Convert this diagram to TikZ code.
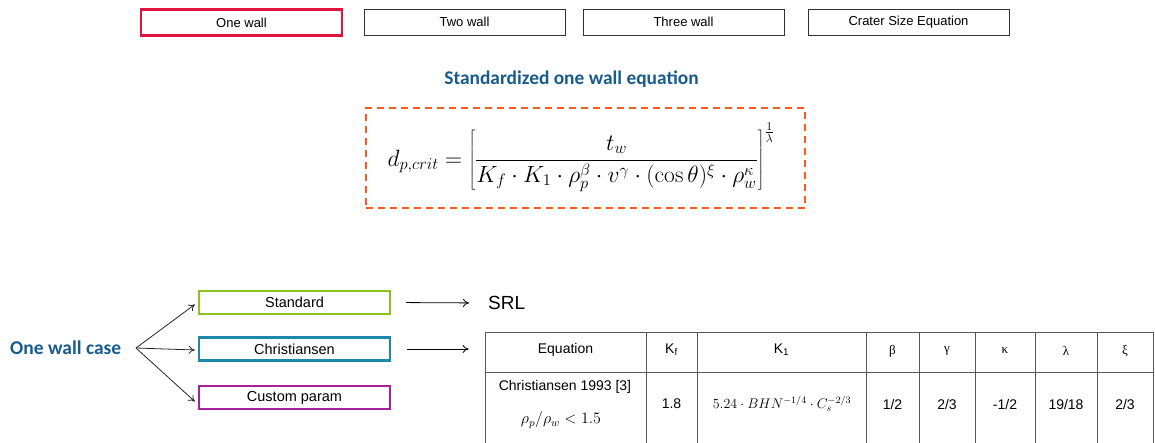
\RequirePackage{fix-cm}
\documentclass[tikz,border=0pt]{standalone}
\usepackage[no-math]{fontspec}
\setmainfont{Liberation Sans}
\newfontfamily\headfont{Carlito}
\newfontfamily\greekfont{Liberation Serif}
\usetikzlibrary{positioning,arrows.meta}
\definecolor{tabred}{RGB}{224,20,60}
\definecolor{headblue}{RGB}{24,92,140}
\definecolor{dashorange}{RGB}{255,90,30}
\definecolor{stdgreen}{RGB}{140,194,30}
\definecolor{chrblue}{RGB}{28,136,172}
\definecolor{custmagenta}{RGB}{163,35,155}
\begin{document}
\begin{tikzpicture}[x=1pt, y=-1pt, >={To[length=6pt,width=8pt]}]
	% Define styles
	\tikzstyle{tab} = [rectangle, draw=black!80, line width=0.8pt, minimum width=201pt, minimum height=26pt, inner sep=0pt, font=\fontsize{13}{15}\selectfont]
	\tikzstyle{choice} = [rectangle, line width=2.4pt, minimum width=191pt, minimum height=23pt, inner sep=0pt, font=\fontsize{14.5}{17}\selectfont]
	\tikzstyle{heading} = [font=\headfont\bfseries\fontsize{19.5}{23}\selectfont, text=headblue]
	\tikzstyle{cell} = [inner sep=0pt, font=\fontsize{14}{16}\selectfont]
	\tikzstyle{greekcell} = [inner sep=0pt, font=\greekfont\fontsize{13}{15}\selectfont]
	\useasboundingbox (0,0) rectangle (1155,443);

	% Tabs
	\node[tab, draw=tabred, line width=2.4pt] (tabone) at (241.5,22.5) {One wall};
	\node[tab] (tabtwo) at (464.5,22) {Two wall};
	\node[tab] (tabthree) at (683.5,22) {Three wall};
	\node[tab] (tabcrater) at (908.5,22) {Crater Size Equation};

	% Equation
	\node[heading, font=\headfont\bfseries\fontsize{19.4}{23}\selectfont] (title) at (571.5,79) {Standardized one wall equation};
	\node[draw=dashorange, line width=1.8pt, dash pattern=on 7pt off 5pt, minimum width=439pt, minimum height=100pt] (eqbox) at (585.5,158) {};
	\node[inner sep=0pt, font=\fontsize{23.5}{28}\selectfont] (eq) at (581,157)
		{$\displaystyle d_{p,crit} = \left[\frac{t_w}{K_f\cdot K_1\cdot\rho_p^{\beta}\cdot v^{\gamma}\cdot(\cos\theta)^{\xi}\cdot\rho_w^{\kappa}}\right]^{\frac{1}{\lambda}}$};

	% Cases
	\node[heading, anchor=west, inner sep=0pt] (onewall) at (10,348) {One wall case};
	\node[choice, draw=stdgreen] (standard) at (294.5,302.5) {Standard};
	\node[choice, draw=chrblue] (christiansen) at (294.5,349) {Christiansen};
	\node[choice, draw=custmagenta] (custom) at (294.5,397.5) {Custom param};
	\node[anchor=west, inner sep=0pt, font=\fontsize{19}{22}\selectfont] (srl) at (488,303) {SRL};

	% Table
	\node[draw=black!65, line width=0.8pt, minimum width=668pt, minimum height=130pt, inner sep=0pt] (eqtable) at (819,397) {};
	\draw[black!65, line width=0.8pt] (485,372) -- (1153,372);
	\foreach \cx in {646,697,866,919,975,1035,1097}
		\draw[black!65, line width=0.8pt] (\cx,332) -- (\cx,462);
	\node[cell] (hequation) at (565.5,350) {Equation};
	\node[cell] (hkf) at (671.5,350) {K\textsubscript{f}};
	\node[cell] (hkone) at (781.5,350) {K\textsubscript{1}};
	\node[greekcell] (hbeta) at (892.5,351) {β};
	\node[greekcell] (hgamma) at (947,351) {γ};
	\node[greekcell] (hkappa) at (1005,351) {κ};
	\node[greekcell] (hlambda) at (1066,351) {λ};
	\node[greekcell] (hxi) at (1125,351) {ξ};
	\node[cell] (chris) at (565,387) {Christiansen 1993 [3]};
	\node[cell, font=\fontsize{16}{18}\selectfont] (ratio) at (561,420) {$\rho_p/\rho_w < 1.5$};
	\node[cell] (vkf) at (671.5,404) {1.8};
	\node[cell, font=\fontsize{14}{16}\selectfont] (vkone) at (782,404) {$5.24\cdot BHN^{-1/4}\cdot C_s^{-2/3}$};
	\node[cell] (vbeta) at (892.5,404) {1/2};
	\node[cell] (vgamma) at (947,404) {2/3};
	\node[cell] (vkappa) at (1005,404) {-1/2};
	\node[cell] (vlambda) at (1066,404) {19/18};
	\node[cell] (vxi) at (1125,404) {2/3};

	% Arrows
	\coordinate (fork) at (136,348);
	\draw[->, black!85, line width=0.8pt] (fork) -- ([xshift=-3pt,yshift=-2pt]standard.west);
	\draw[->, black!85, line width=0.8pt] (fork) -- ([xshift=-3pt,yshift=-1pt]christiansen.west);
	\draw[->, black!85, line width=0.8pt] (fork) -- ([xshift=-3pt,yshift=-4pt]custom.west);
	\draw[->, line width=0.8pt, shorten <=15pt, shorten >=19pt] (standard.east) -- (srl.west);
	\draw[->, line width=0.8pt, shorten <=16pt, shorten >=16pt] (christiansen.east) -- (eqtable.west |- christiansen.east);
\end{tikzpicture}
\end{document}
